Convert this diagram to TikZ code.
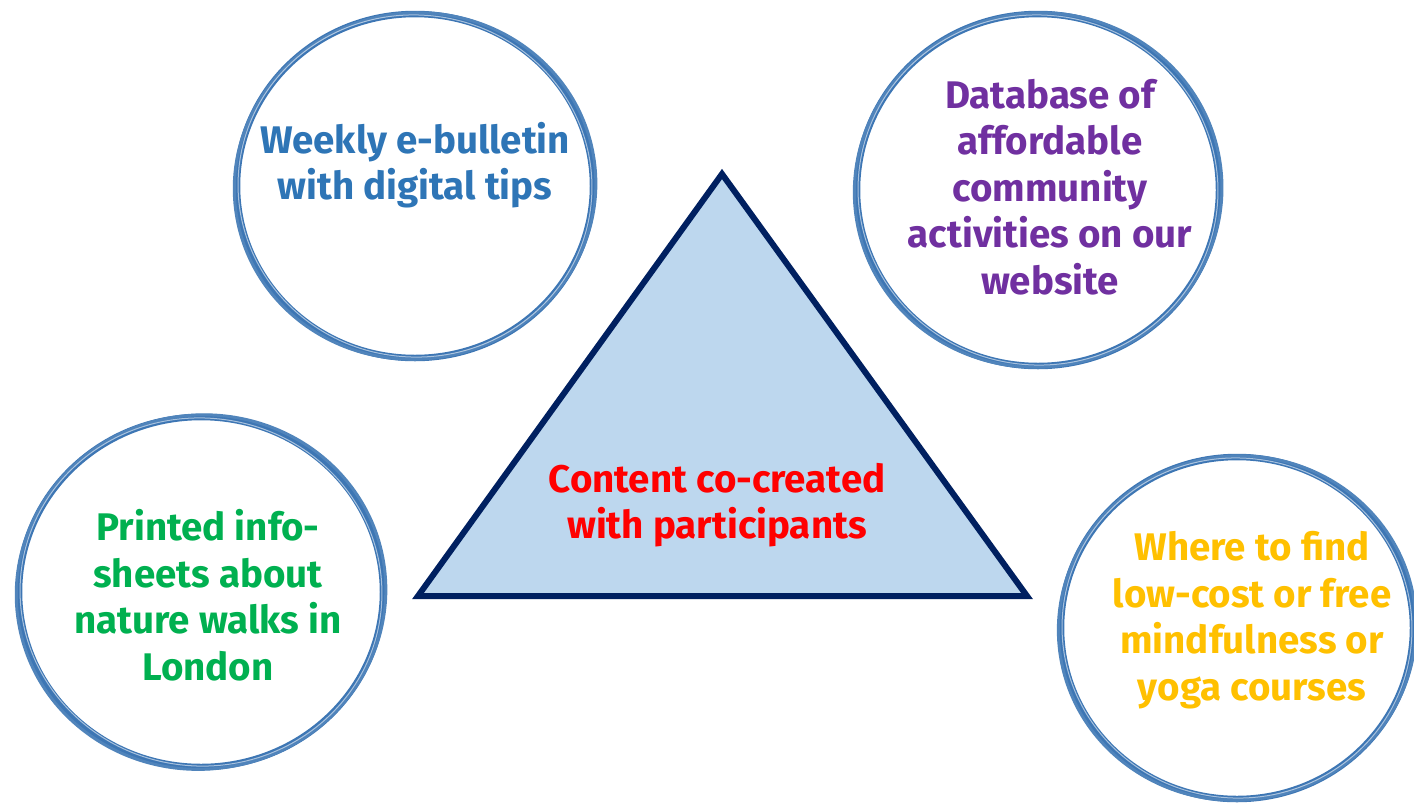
\documentclass[tikz,border=0pt]{standalone}
\usepackage{fontspec}
\setmainfont{Fira Sans}
\usepackage{tikz}
\usetikzlibrary{positioning}
\usetikzlibrary{calc}

\definecolor{ringblue}{HTML}{3D76B4}
\definecolor{navy}{HTML}{002060}
\definecolor{trifill}{HTML}{BDD7EE}
\definecolor{txtblue}{HTML}{2E75B6}
\definecolor{txtpurple}{HTML}{7030A0}
\definecolor{txtgreen}{HTML}{00B050}
\definecolor{txtgold}{HTML}{FFC000}
\definecolor{txtred}{HTML}{FF0000}

\tikzset{
  ring/.style={draw=ringblue,line width=6.5pt},
  ringthin/.style={draw=ringblue!90,line width=3pt},
  ringlight/.style={draw=white,line width=1pt,opacity=0.55},
  label/.style={align=center,font=\bfseries\fontsize{38.5}{46.5}\selectfont},
  tri/.style={draw=navy,fill=trifill,line width=6pt,line join=miter}
}

\begin{document}
\begin{tikzpicture}[x=1pt,y=-1pt]

\useasboundingbox (0,0) rectangle (1414,804);

%RINGS
\coordinate (c1) at (415,186);
\coordinate (c2) at (1038,190);
\coordinate (c3) at (201,592);
\coordinate (c4) at (1237,628);

\draw[ring] (c1) ellipse (178 and 172);
\draw[ringthin,rotate around={10:(c1)}] (c1) ellipse (181 and 173);
\draw[ringlight,rotate around={-6:(c1)}] (c1) ellipse (177 and 171);

\draw[ring] (c2) ellipse (181 and 176);
\draw[ringthin,rotate around={10:(c2)}] (c2) ellipse (184 and 177);
\draw[ringlight,rotate around={-6:(c2)}] (c2) ellipse (180 and 175);

\draw[ring] (c3) ellipse (182 and 175);
\draw[ringthin,rotate around={10:(c3)}] (c3) ellipse (185 and 177);
\draw[ringlight,rotate around={-6:(c3)}] (c3) ellipse (181 and 174);

\draw[ring] (c4) ellipse (176 and 171);
\draw[ringthin,rotate around={10:(c4)}] (c4) ellipse (179 and 172);
\draw[ringlight,rotate around={-6:(c4)}] (c4) ellipse (175 and 170);

%TRIANGLE
\coordinate (apex) at (722,174);
\coordinate (botl) at (418,596);
\coordinate (botr) at (1027,596);
\draw[tri] (apex) -- (botl) -- (botr) -- cycle;

%LABELs
\node[label,text=txtred](content-label) at (717,505){Content co-created\\with participants};
\node[label,text=txtblue](bulletin-label) at (415,165){Weekly e-bulletin\\with digital tips};
\node[label,text=txtpurple](database-label) at (1050,187){Database of\\affordable\\community\\activities on our\\website};
\node[label,text=txtgreen](sheets-label) at (208,595){Printed info-\\sheets about\\nature walks in\\London};
\node[label,text=txtgold](courses-label) at (1252,620){Where to find\\low-cost or free\\mindfulness or\\yoga courses};

\end{tikzpicture}
\end{document}
